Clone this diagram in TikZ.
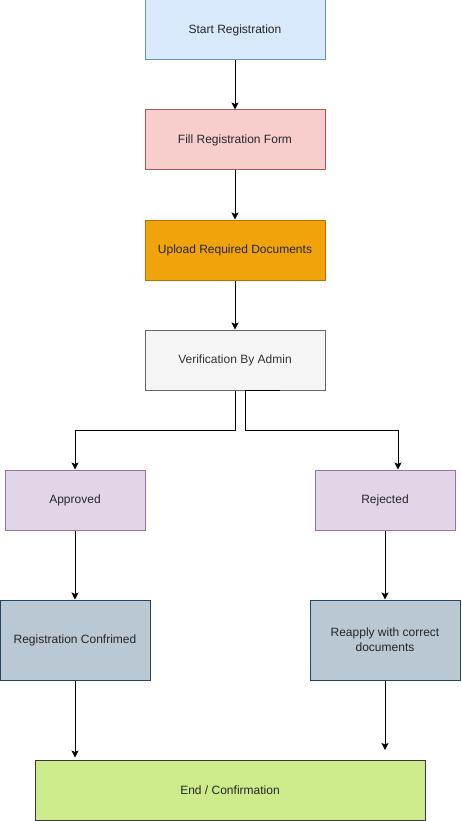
\documentclass[tikz,border=0pt]{standalone}
\usepackage{fontspec}
\setmainfont{Liberation Sans}
\usetikzlibrary{arrows.meta}
\definecolor{startfill}{HTML}{DAE8FC}
\definecolor{startline}{HTML}{6C8EBF}
\definecolor{formfill}{HTML}{F8CECC}
\definecolor{formline}{HTML}{B85450}
\definecolor{uploadfill}{HTML}{F0A30A}
\definecolor{uploadline}{HTML}{BD7000}
\definecolor{verifyfill}{HTML}{F5F5F5}
\definecolor{verifyline}{HTML}{666666}
\definecolor{verifytext}{HTML}{333333}
\definecolor{resultfill}{HTML}{E1D5E7}
\definecolor{resultline}{HTML}{9673A6}
\definecolor{nextfill}{HTML}{BAC8D3}
\definecolor{nextline}{HTML}{23445D}
\definecolor{endfill}{HTML}{CDEB8B}
\definecolor{endline}{HTML}{36393D}
\begin{document}
\begin{tikzpicture}[x=1pt,y=-1pt,
    box/.style={rectangle,draw,line width=1pt,inner sep=0pt,align=center,
        font=\fontsize{12}{15}\selectfont,text=black!85},
    flow/.style={draw=black,line width=1pt,-{Stealth[length=7pt,width=7pt,inset=1.5pt]}}]
    \useasboundingbox (0,0) rectangle (461,821);
    \node[box,fill=startfill,draw=startline,minimum width=180pt,minimum height=60pt] (start) at (235,30) {Start Registration};
    \node[box,fill=formfill,draw=formline,minimum width=180pt,minimum height=60pt] (form) at (235,140) {Fill Registration Form};
    \node[box,fill=uploadfill,draw=uploadline,minimum width=180pt,minimum height=60pt] (upload) at (235,250) {Upload Required Documents};
    \node[box,fill=verifyfill,draw=verifyline,text=verifytext,minimum width=180pt,minimum height=60pt] (verify) at (235,360) {Verification By Admin};
    \node[box,fill=resultfill,draw=resultline,minimum width=140pt,minimum height=60pt] (approved) at (75,500) {Approved};
    \node[box,fill=resultfill,draw=resultline,minimum width=140pt,minimum height=60pt] (rejected) at (385,500) {Rejected};
    \node[box,fill=nextfill,draw=nextline,minimum width=150pt,minimum height=80pt] (confirmed) at (75,640) {Registration Confrimed};
    \node[box,fill=nextfill,draw=nextline,minimum width=150pt,minimum height=80pt] (reapply) at (385,640) {Reapply with correct\\documents};
    \node[box,fill=endfill,draw=endline,minimum width=390pt,minimum height=60pt] (finish) at (230,790) {End / Confirmation};
    \coordinate (reapplyend) at (385,750);
    \begin{scope}[every path/.style={flow}]
    \path (start) edge (form)
          (form) edge (upload)
          (upload) edge (verify)
          (approved) edge (confirmed)
          (rejected) edge (reapply);
    \draw (verify.south) -- ++(0,40) -| (approved.north);
    \draw ([xshift=45pt]verify.south) -- ++(-35,0) -- ++(0,40) -| ([xshift=13pt]rejected.north);
    \draw (confirmed.south) -- ([yshift=2pt]confirmed.south |- finish.north);
    \draw (reapply.south) -- (reapplyend);
    \end{scope}
\end{tikzpicture}
\end{document}
